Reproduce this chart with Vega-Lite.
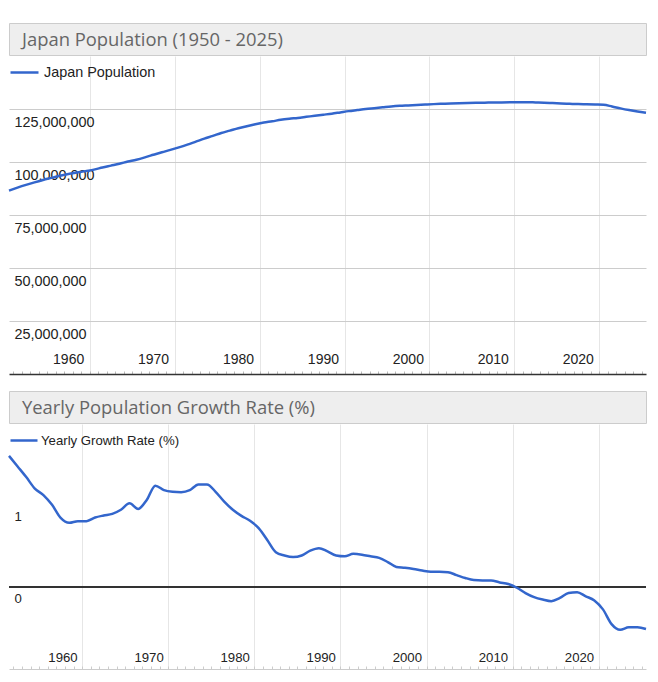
{
  "$schema": "https://vega.github.io/schema/vega-lite/v6.json",
  "padding": {"left": 4, "top": 22, "right": 13, "bottom": 0},
  "background": "white",
  "config": {"view": {"stroke": null}},
  "datasets": {
    "pop": [
      {"date": "1950-07-01", "pop": 86500000}, {"date": "1951-07-01", "pop": 87900000}, {"date": "1952-07-01", "pop": 89200000},
      {"date": "1953-07-01", "pop": 90400000}, {"date": "1954-07-01", "pop": 91500000}, {"date": "1955-07-01", "pop": 92500000},
      {"date": "1956-07-01", "pop": 93500000}, {"date": "1957-07-01", "pop": 94300000}, {"date": "1958-07-01", "pop": 95000000},
      {"date": "1959-07-01", "pop": 95700000}, {"date": "1960-07-01", "pop": 96400000}, {"date": "1961-07-01", "pop": 97400000},
      {"date": "1962-07-01", "pop": 98300000}, {"date": "1963-07-01", "pop": 99200000}, {"date": "1964-07-01", "pop": 100200000},
      {"date": "1965-07-01", "pop": 101100000}, {"date": "1966-07-01", "pop": 102200000}, {"date": "1967-07-01", "pop": 103400000},
      {"date": "1968-07-01", "pop": 104600000}, {"date": "1969-07-01", "pop": 105700000}, {"date": "1970-07-01", "pop": 106900000},
      {"date": "1971-07-01", "pop": 108200000}, {"date": "1972-07-01", "pop": 109600000}, {"date": "1973-07-01", "pop": 111000000},
      {"date": "1974-07-01", "pop": 112300000}, {"date": "1975-07-01", "pop": 113700000}, {"date": "1976-07-01", "pop": 114800000},
      {"date": "1977-07-01", "pop": 115900000}, {"date": "1978-07-01", "pop": 116900000}, {"date": "1979-07-01", "pop": 117800000},
      {"date": "1980-07-01", "pop": 118600000}, {"date": "1981-07-01", "pop": 119200000}, {"date": "1982-07-01", "pop": 119900000},
      {"date": "1983-07-01", "pop": 120400000}, {"date": "1984-07-01", "pop": 120800000}, {"date": "1985-07-01", "pop": 121300000},
      {"date": "1986-07-01", "pop": 121800000}, {"date": "1987-07-01", "pop": 122300000}, {"date": "1988-07-01", "pop": 122800000},
      {"date": "1989-07-01", "pop": 123400000}, {"date": "1990-07-01", "pop": 124000000}, {"date": "1991-07-01", "pop": 124500000},
      {"date": "1992-07-01", "pop": 125000000}, {"date": "1993-07-01", "pop": 125400000}, {"date": "1994-07-01", "pop": 125800000},
      {"date": "1995-07-01", "pop": 126200000}, {"date": "1996-07-01", "pop": 126500000}, {"date": "1997-07-01", "pop": 126700000},
      {"date": "1998-07-01", "pop": 126900000}, {"date": "1999-07-01", "pop": 127100000}, {"date": "2000-07-01", "pop": 127300000},
      {"date": "2001-07-01", "pop": 127450000}, {"date": "2002-07-01", "pop": 127600000}, {"date": "2003-07-01", "pop": 127700000},
      {"date": "2004-07-01", "pop": 127800000}, {"date": "2005-07-01", "pop": 127900000}, {"date": "2006-07-01", "pop": 128000000},
      {"date": "2007-07-01", "pop": 128050000}, {"date": "2008-07-01", "pop": 128100000}, {"date": "2009-07-01", "pop": 128150000},
      {"date": "2010-07-01", "pop": 128200000}, {"date": "2011-07-01", "pop": 128200000}, {"date": "2012-07-01", "pop": 128100000},
      {"date": "2013-07-01", "pop": 128000000}, {"date": "2014-07-01", "pop": 127800000}, {"date": "2015-07-01", "pop": 127600000},
      {"date": "2016-07-01", "pop": 127450000}, {"date": "2017-07-01", "pop": 127300000}, {"date": "2018-07-01", "pop": 127200000},
      {"date": "2019-07-01", "pop": 127100000}, {"date": "2020-07-01", "pop": 127000000}, {"date": "2021-07-01", "pop": 126200000},
      {"date": "2022-07-01", "pop": 125300000}, {"date": "2023-07-01", "pop": 124500000}, {"date": "2024-07-01", "pop": 123800000},
      {"date": "2025-07-01", "pop": 123200000}
    ],
    "rate": [
      {"date": "1951-07-01", "rate": 1.61}, {"date": "1952-07-01", "rate": 1.48}, {"date": "1953-07-01", "rate": 1.35},
      {"date": "1954-07-01", "rate": 1.21}, {"date": "1955-07-01", "rate": 1.13}, {"date": "1956-07-01", "rate": 1.01},
      {"date": "1957-07-01", "rate": 0.85}, {"date": "1958-07-01", "rate": 0.79}, {"date": "1959-07-01", "rate": 0.81},
      {"date": "1960-07-01", "rate": 0.81}, {"date": "1961-07-01", "rate": 0.855}, {"date": "1962-07-01", "rate": 0.88},
      {"date": "1963-07-01", "rate": 0.9}, {"date": "1964-07-01", "rate": 0.95}, {"date": "1965-07-01", "rate": 1.03},
      {"date": "1966-07-01", "rate": 0.96}, {"date": "1967-07-01", "rate": 1.07}, {"date": "1968-07-01", "rate": 1.245},
      {"date": "1969-07-01", "rate": 1.19}, {"date": "1970-07-01", "rate": 1.17}, {"date": "1971-07-01", "rate": 1.165},
      {"date": "1972-07-01", "rate": 1.19}, {"date": "1973-07-01", "rate": 1.26}, {"date": "1974-07-01", "rate": 1.26},
      {"date": "1975-07-01", "rate": 1.17}, {"date": "1976-07-01", "rate": 1.05}, {"date": "1977-07-01", "rate": 0.95},
      {"date": "1978-07-01", "rate": 0.875}, {"date": "1979-07-01", "rate": 0.815}, {"date": "1980-07-01", "rate": 0.725},
      {"date": "1981-07-01", "rate": 0.58}, {"date": "1982-07-01", "rate": 0.43}, {"date": "1983-07-01", "rate": 0.39},
      {"date": "1984-07-01", "rate": 0.37}, {"date": "1985-07-01", "rate": 0.39}, {"date": "1986-07-01", "rate": 0.45},
      {"date": "1987-07-01", "rate": 0.48}, {"date": "1988-07-01", "rate": 0.44}, {"date": "1989-07-01", "rate": 0.39},
      {"date": "1990-07-01", "rate": 0.38}, {"date": "1991-07-01", "rate": 0.41}, {"date": "1992-07-01", "rate": 0.4},
      {"date": "1993-07-01", "rate": 0.38}, {"date": "1994-07-01", "rate": 0.36}, {"date": "1995-07-01", "rate": 0.31},
      {"date": "1996-07-01", "rate": 0.25}, {"date": "1997-07-01", "rate": 0.24}, {"date": "1998-07-01", "rate": 0.225},
      {"date": "1999-07-01", "rate": 0.205}, {"date": "2000-07-01", "rate": 0.19}, {"date": "2001-07-01", "rate": 0.19},
      {"date": "2002-07-01", "rate": 0.185}, {"date": "2003-07-01", "rate": 0.15}, {"date": "2004-07-01", "rate": 0.115},
      {"date": "2005-07-01", "rate": 0.09}, {"date": "2006-07-01", "rate": 0.085}, {"date": "2007-07-01", "rate": 0.085},
      {"date": "2008-07-01", "rate": 0.06}, {"date": "2009-07-01", "rate": 0.04}, {"date": "2010-07-01", "rate": -0.005},
      {"date": "2011-07-01", "rate": -0.07}, {"date": "2012-07-01", "rate": -0.12}, {"date": "2013-07-01", "rate": -0.15},
      {"date": "2014-07-01", "rate": -0.17}, {"date": "2015-07-01", "rate": -0.13}, {"date": "2016-07-01", "rate": -0.07},
      {"date": "2017-07-01", "rate": -0.06}, {"date": "2018-07-01", "rate": -0.11}, {"date": "2019-07-01", "rate": -0.16},
      {"date": "2020-07-01", "rate": -0.27}, {"date": "2021-07-01", "rate": -0.45}, {"date": "2022-07-01", "rate": -0.52},
      {"date": "2023-07-01", "rate": -0.49}, {"date": "2024-07-01", "rate": -0.49}, {"date": "2025-07-01", "rate": -0.51}
    ],
    "titles1": [{"t": "Japan Population (1950 - 2025)"}],
    "titles2": [{"t": "Yearly Population Growth Rate (%)"}]
  },
  "vconcat": [
    {
      "spacing": 0,
      "vconcat": [
        {
          "width": 637, "height": 32,
          "view": {"fill": "#eeeeee", "stroke": "#cccccc"},
          "data": {"name": "titles1"},
          "mark": {"type": "text", "align": "left", "baseline": "alphabetic", "font": "Open Sans", "fontSize": 18.4, "color": "#666666"},
          "encoding": {"text": {"field": "t"}, "x": {"value": 13}, "y": {"value": 23}}
        },
        {
          "width": 637, "height": 318,
          "data": {"name": "pop"},
          "mark": {"type": "line", "interpolate": "monotone", "strokeWidth": 2.5},
          "encoding": {
            "x": {
              "field": "date", "type": "temporal", "scale": {"nice": false},
              "axis": {
                "title": null, "tickCount": {"interval": "year", "step": 1},
                "labelExpr": "year(datum.value) % 10 === 0 ? timeFormat(datum.value, '%Y') : ''",
                "labelAlign": "right", "labelBaseline": "middle", "labelPadding": -12, "labelOffset": -6,
                "labelFont": "Liberation Sans", "labelFontSize": 14, "labelColor": "#222222",
                "labelOverlap": false, "labelFlush": false, "labelBound": false,
                "grid": true, "gridColor": "#e6e6e6",
                "gridOpacity": {"condition": {"test": "year(datum.value) % 10 === 0", "value": 1}, "value": 0},
                "ticks": true, "tickSize": -3, "tickColor": "#bbbbbb", "tickWidth": 1,
                "domain": true, "domainColor": "#333333", "domainWidth": 1.5
              }
            },
            "y": {
              "field": "pop", "type": "quantitative", "scale": {"domain": [0, 150000000], "nice": false},
              "axis": {
                "title": null, "values": [25000000, 50000000, 75000000, 100000000, 125000000], "format": ",d",
                "domain": false, "ticks": false, "labelAlign": "left", "labelBaseline": "middle",
                "labelPadding": -5, "labelOffset": 13, "labelFont": "Liberation Sans", "labelFontSize": 14.4,
                "labelColor": "#222222", "gridColor": "#cccccc"
              }
            },
            "color": {
              "datum": "Japan Population", "type": "nominal", "scale": {"range": ["#3366cc"]},
              "legend": {
                "orient": "none", "legendX": 0, "legendY": 34, "title": null, "padding": 0,
                "symbolType": "stroke", "symbolSize": 784, "symbolStrokeWidth": 2.5,
                "labelFont": "Liberation Sans", "labelFontSize": 14.4, "labelColor": "#222222", "labelOffset": 4
              }
            }
          }
        }
      ]
    },
    {
      "spacing": 0,
      "vconcat": [
        {
          "width": 637, "height": 32,
          "view": {"fill": "#eeeeee", "stroke": "#cccccc"},
          "data": {"name": "titles2"},
          "mark": {"type": "text", "align": "left", "baseline": "alphabetic", "font": "Open Sans", "fontSize": 18.4, "color": "#666666"},
          "encoding": {"text": {"field": "t"}, "x": {"value": 13}, "y": {"value": 23}}
        },
        {
          "width": 637, "height": 245,
          "data": {"name": "rate"},
          "layer": [
            {
              "mark": {"type": "rule", "color": "#333333", "strokeWidth": 1.5},
              "encoding": {"y": {"datum": 0, "type": "quantitative"}}
            },
            {
              "mark": {"type": "line", "interpolate": "monotone", "strokeWidth": 2.5},
              "encoding": {
                "x": {
                  "field": "date", "type": "temporal", "scale": {"nice": false},
                  "axis": {
                    "title": null, "tickCount": {"interval": "year", "step": 1},
                    "labelExpr": "year(datum.value) % 10 === 0 ? timeFormat(datum.value, '%Y') : ''",
                    "labelAlign": "right", "labelBaseline": "middle", "labelPadding": -9, "labelOffset": -5,
                    "labelFont": "Liberation Sans", "labelFontSize": 13.2, "labelColor": "#222222",
                    "labelOverlap": false, "labelFlush": false, "labelBound": false,
                    "grid": true, "gridColor": "#e6e6e6",
                    "gridOpacity": {"condition": {"test": "year(datum.value) % 10 === 0", "value": 1}, "value": 0},
                    "ticks": true, "tickSize": -3, "tickColor": "#cccccc", "tickWidth": 1,
                    "domain": true, "domainColor": "#cccccc", "domainWidth": 1
                  }
                },
                "y": {
                  "field": "rate", "type": "quantitative", "scale": {"domain": [-1, 2], "nice": false},
                  "axis": {
                    "title": null, "values": [-0.5, 0, 0.5, 1, 1.5],
                    "labelExpr": "datum.value === 0 ? '0' : datum.value === 1 ? '1' : ''",
                    "domain": false, "ticks": false, "labelAlign": "left", "labelBaseline": "middle",
                    "labelPadding": -5, "labelOffset": 11, "labelFont": "Liberation Sans", "labelFontSize": 13.2,
                    "labelColor": "#222222",
                    "gridColor": {"condition": {"test": "datum.value === 1", "value": "#cccccc"}, "value": "#e8e8e8"}
                  }
                },
                "color": {
                  "datum": "Yearly Growth Rate (%)", "type": "nominal", "scale": {"range": ["#3366cc"]},
                  "legend": {
                    "orient": "none", "legendX": 0, "legendY": 34.5, "title": null, "padding": 0,
                    "symbolType": "stroke", "symbolSize": 729, "symbolStrokeWidth": 2.5,
                    "labelFont": "Liberation Sans", "labelFontSize": 13.2, "labelColor": "#222222", "labelOffset": 2
                  }
                }
              }
            }
          ]
        }
      ]
    }
  ],
  "spacing": 15,
  "resolve": {"scale": {"color": "independent"}, "legend": {"color": "independent"}}
}
